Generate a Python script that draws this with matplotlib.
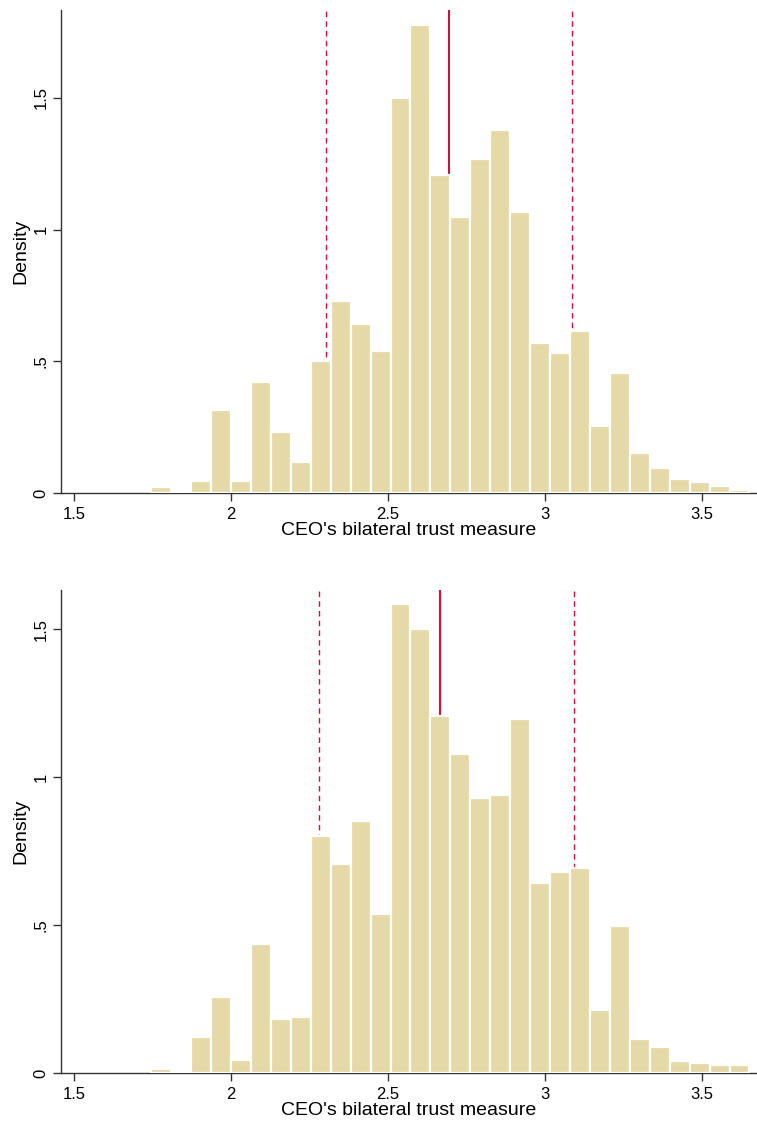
import numpy as np
import matplotlib.pyplot as plt

plt.rcParams['font.family'] = ['Liberation Sans', 'DejaVu Sans']

# histogram bins (same for both panels)
bin_start = 1.746
bin_width = 0.0635
n_bins = 30

# densities, panel 1 (top)
dens_top = [0.024, 0.0, 0.046, 0.314, 0.046, 0.421, 0.234, 0.118, 0.503, 0.729,
            0.640, 0.539, 1.498, 1.777, 1.206, 1.049, 1.268, 1.378, 1.065, 0.570,
            0.531, 0.614, 0.257, 0.456, 0.152, 0.097, 0.055, 0.042, 0.026, 0.011]
# panel 2 (bottom)
dens_bot = [0.012, 0.0, 0.121, 0.258, 0.044, 0.435, 0.183, 0.188, 0.800, 0.707,
            0.851, 0.536, 1.584, 1.500, 1.206, 1.079, 0.929, 0.939, 1.195, 0.643,
            0.678, 0.694, 0.214, 0.497, 0.115, 0.087, 0.042, 0.033, 0.028, 0.028]

# vertical reference lines: centre (solid), lower and upper (dashed)
lines_top = [2.693, 2.3015, 3.086]
lines_bot = [2.6646, 2.281, 3.0934]

xticks = [1.5, 2, 2.5, 3, 3.5]
xticklabels = ['1.5', '2', '2.5', '3', '3.5']
yticks = [0, 0.5, 1, 1.5]
yticklabels = ['0', '.5', '1', '1.5']

bar_col = '#E5D9A8'
line_col = '#C8143C'

fig = plt.figure(figsize=(7.57, 11.24), dpi=100)
ax1 = fig.add_axes([0.0806, 0.5611, 0.9194, 0.4300])
ax2 = fig.add_axes([0.0806, 0.0454, 0.9194, 0.4300])

edges = bin_start + bin_width * np.arange(n_bins)

for ax, dens, lns, ytop in [(ax1, dens_top, lines_top, 1.832), (ax2, dens_bot, lines_bot, 1.633)]:
    ax.bar(edges, dens, width=bin_width, align='edge', color=bar_col,
           edgecolor='white', linewidth=1.6, zorder=3)
    ax.axvline(lns[0], color=line_col, lw=1.5, zorder=2)
    ax.axvline(lns[1], color=line_col, lw=1.0, ls=(0, (4, 3)), zorder=2)
    ax.axvline(lns[2], color=line_col, lw=1.0, ls=(0, (4, 3)), zorder=2)
    ax.set_xlim(1.4586, 3.675)
    ax.set_ylim(0, ytop)
    ax.set_xticks(xticks)
    ax.set_xticklabels(xticklabels, fontsize=12)
    ax.set_yticks(yticks)
    ax.set_yticklabels(yticklabels, fontsize=12, rotation=90, va='center')
    ax.tick_params(length=5.5, width=1, color='#333333')
    ax.tick_params(axis='x', pad=4.5)
    ax.tick_params(axis='y', pad=3.5)
    for s in ['top', 'right']:
        ax.spines[s].set_visible(False)
    for s in ['left', 'bottom']:
        ax.spines[s].set_color('#333333')
        ax.spines[s].set_linewidth(1)
    ax.set_xlabel("CEO's bilateral trust measure", fontsize=14, labelpad=0)
    ax.set_ylabel('Density', fontsize=14, labelpad=3)

fig.savefig('out.png', dpi=100)
